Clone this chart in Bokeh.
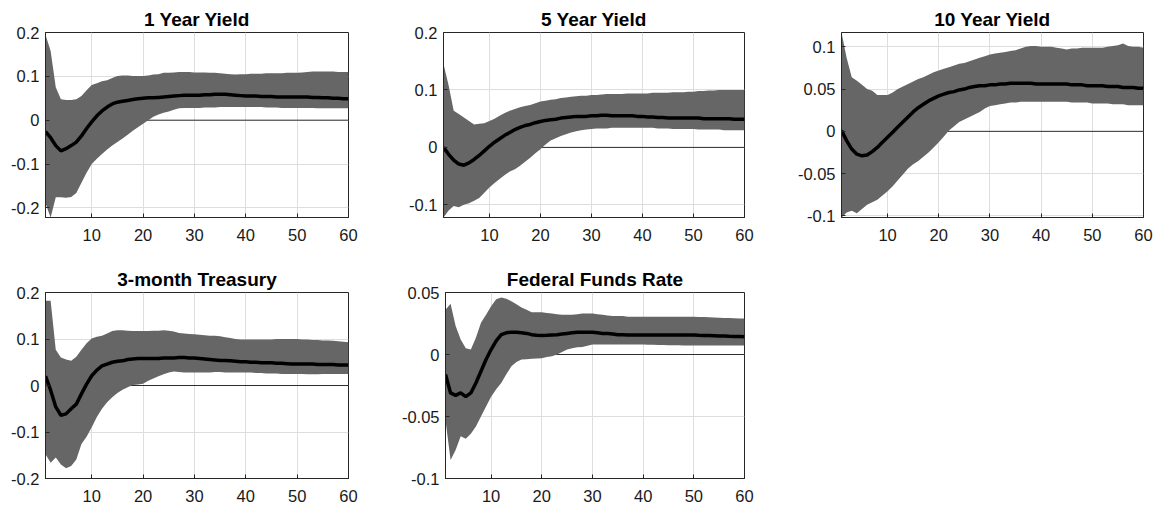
from bokeh.plotting import figure
from bokeh.layouts import column, row
from bokeh.models import FixedTicker, Range1d, Span
from bokeh.embed import file_html
from bokeh.resources import INLINE

# ---------------- data ----------------
horizon = list(range(1, 61))
x_ticks = [10, 20, 30, 40, 50, 60]

titles = ["1 Year Yield", "5 Year Yield", "10 Year Yield", "3-month Treasury", "Federal Funds Rate"]

y1_med = [-0.026, -0.040, -0.058, -0.070, -0.065, -0.058, -0.050, -0.036, -0.019, -0.004,
          0.010, 0.021, 0.030, 0.037, 0.041, 0.043, 0.045, 0.047, 0.049, 0.050,
          0.051, 0.051, 0.052, 0.053, 0.054, 0.055, 0.056, 0.057, 0.057, 0.057,
          0.057, 0.058, 0.058, 0.059, 0.059, 0.059, 0.058, 0.057, 0.056, 0.055,
          0.055, 0.055, 0.054, 0.054, 0.054, 0.053, 0.053, 0.053, 0.053, 0.053,
          0.053, 0.053, 0.052, 0.052, 0.051, 0.051, 0.050, 0.050, 0.049, 0.049]
y1_hi = [0.195, 0.158, 0.075, 0.048, 0.046, 0.046, 0.048, 0.055, 0.068, 0.080,
         0.084, 0.089, 0.091, 0.096, 0.101, 0.102, 0.102, 0.101, 0.101, 0.101,
         0.102, 0.104, 0.105, 0.108, 0.108, 0.109, 0.110, 0.110, 0.110, 0.109,
         0.109, 0.109, 0.108, 0.108, 0.107, 0.106, 0.105, 0.104, 0.105, 0.105,
         0.106, 0.106, 0.106, 0.107, 0.107, 0.107, 0.107, 0.108, 0.108, 0.108,
         0.109, 0.110, 0.111, 0.111, 0.111, 0.111, 0.111, 0.110, 0.110, 0.110]
y1_lo = [-0.190, -0.222, -0.176, -0.176, -0.177, -0.175, -0.166, -0.143, -0.120, -0.100,
         -0.088, -0.077, -0.067, -0.058, -0.050, -0.042, -0.033, -0.024, -0.016, -0.008,
         0.000, 0.008, 0.013, 0.017, 0.020, 0.024, 0.027, 0.028, 0.028, 0.028,
         0.028, 0.029, 0.029, 0.029, 0.030, 0.030, 0.030, 0.030, 0.030, 0.030,
         0.030, 0.030, 0.030, 0.029, 0.029, 0.029, 0.028, 0.028, 0.028, 0.028,
         0.028, 0.028, 0.028, 0.027, 0.027, 0.027, 0.027, 0.027, 0.027, 0.027]

y5_med = [0.000, -0.012, -0.022, -0.029, -0.031, -0.027, -0.021, -0.014, -0.006, 0.002,
          0.009, 0.015, 0.021, 0.026, 0.031, 0.035, 0.038, 0.040, 0.043, 0.045,
          0.047, 0.048, 0.049, 0.051, 0.052, 0.053, 0.054, 0.054, 0.054, 0.055,
          0.055, 0.056, 0.056, 0.055, 0.055, 0.055, 0.055, 0.055, 0.054, 0.054,
          0.053, 0.053, 0.052, 0.052, 0.051, 0.051, 0.051, 0.051, 0.051, 0.051,
          0.051, 0.050, 0.050, 0.050, 0.050, 0.050, 0.050, 0.049, 0.049, 0.049]
y5_hi = [0.145, 0.108, 0.064, 0.058, 0.052, 0.046, 0.040, 0.041, 0.042, 0.046,
         0.050, 0.055, 0.060, 0.064, 0.067, 0.070, 0.072, 0.074, 0.077, 0.080,
         0.081, 0.083, 0.084, 0.086, 0.087, 0.088, 0.089, 0.090, 0.090, 0.091,
         0.091, 0.092, 0.093, 0.093, 0.093, 0.093, 0.094, 0.094, 0.094, 0.094,
         0.094, 0.095, 0.095, 0.095, 0.095, 0.096, 0.096, 0.096, 0.097, 0.097,
         0.098, 0.098, 0.099, 0.099, 0.100, 0.100, 0.100, 0.100, 0.100, 0.100]
y5_lo = [-0.122, -0.110, -0.102, -0.104, -0.100, -0.097, -0.093, -0.088, -0.079, -0.070,
         -0.062, -0.055, -0.048, -0.042, -0.038, -0.032, -0.025, -0.018, -0.010, -0.003,
         0.005, 0.012, 0.016, 0.020, 0.023, 0.026, 0.028, 0.030, 0.031, 0.032,
         0.033, 0.033, 0.033, 0.034, 0.034, 0.034, 0.034, 0.034, 0.034, 0.034,
         0.034, 0.034, 0.033, 0.033, 0.033, 0.032, 0.032, 0.032, 0.032, 0.032,
         0.031, 0.031, 0.031, 0.031, 0.031, 0.030, 0.030, 0.030, 0.030, 0.030]

y10_med = [0.001, -0.011, -0.021, -0.027, -0.029, -0.028, -0.024, -0.019, -0.013, -0.007,
           -0.001, 0.005, 0.011, 0.017, 0.023, 0.028, 0.032, 0.036, 0.039, 0.042,
           0.044, 0.046, 0.047, 0.049, 0.050, 0.052, 0.053, 0.054, 0.054, 0.055,
           0.055, 0.056, 0.056, 0.057, 0.057, 0.057, 0.057, 0.057, 0.056, 0.056,
           0.056, 0.056, 0.056, 0.056, 0.056, 0.055, 0.055, 0.055, 0.054, 0.054,
           0.054, 0.054, 0.053, 0.053, 0.053, 0.052, 0.052, 0.052, 0.051, 0.051]
y10_hi = [0.117, 0.087, 0.064, 0.060, 0.055, 0.050, 0.048, 0.043, 0.043, 0.043,
          0.046, 0.050, 0.053, 0.056, 0.059, 0.062, 0.064, 0.067, 0.070, 0.072,
          0.074, 0.076, 0.078, 0.080, 0.081, 0.083, 0.085, 0.087, 0.089, 0.091,
          0.092, 0.093, 0.094, 0.095, 0.096, 0.098, 0.100, 0.101, 0.101, 0.100,
          0.100, 0.100, 0.099, 0.098, 0.097, 0.098, 0.098, 0.099, 0.099, 0.099,
          0.099, 0.099, 0.100, 0.101, 0.102, 0.104, 0.101, 0.100, 0.100, 0.099]
y10_lo = [-0.102, -0.096, -0.094, -0.097, -0.092, -0.087, -0.084, -0.081, -0.076, -0.071,
          -0.065, -0.058, -0.051, -0.044, -0.039, -0.035, -0.030, -0.025, -0.019, -0.013,
          -0.006, 0.001, 0.006, 0.011, 0.014, 0.017, 0.020, 0.023, 0.027, 0.030,
          0.031, 0.032, 0.033, 0.034, 0.034, 0.035, 0.035, 0.035, 0.035, 0.035,
          0.035, 0.035, 0.035, 0.035, 0.035, 0.034, 0.034, 0.034, 0.034, 0.033,
          0.033, 0.033, 0.033, 0.032, 0.032, 0.032, 0.031, 0.031, 0.031, 0.031]

tb_med = [0.020, -0.010, -0.046, -0.064, -0.061, -0.050, -0.040, -0.018, 0.003, 0.021,
          0.033, 0.042, 0.046, 0.050, 0.052, 0.053, 0.056, 0.057, 0.058, 0.058,
          0.058, 0.058, 0.058, 0.059, 0.059, 0.059, 0.060, 0.060, 0.059, 0.059,
          0.058, 0.057, 0.056, 0.055, 0.054, 0.054, 0.053, 0.052, 0.051, 0.051,
          0.050, 0.050, 0.049, 0.049, 0.049, 0.048, 0.048, 0.047, 0.046, 0.046,
          0.046, 0.046, 0.046, 0.045, 0.045, 0.045, 0.045, 0.044, 0.044, 0.044]
tb_hi = [0.182, 0.182, 0.077, 0.060, 0.056, 0.053, 0.062, 0.077, 0.091, 0.101,
         0.105, 0.107, 0.112, 0.117, 0.119, 0.119, 0.118, 0.117, 0.117, 0.117,
         0.117, 0.118, 0.118, 0.119, 0.118, 0.116, 0.113, 0.112, 0.111, 0.110,
         0.109, 0.108, 0.107, 0.107, 0.106, 0.104, 0.102, 0.100, 0.099, 0.099,
         0.099, 0.099, 0.099, 0.099, 0.099, 0.100, 0.100, 0.100, 0.100, 0.100,
         0.099, 0.099, 0.098, 0.098, 0.097, 0.097, 0.096, 0.095, 0.094, 0.093]
tb_lo = [-0.148, -0.166, -0.155, -0.170, -0.178, -0.173, -0.159, -0.126, -0.110, -0.090,
         -0.068, -0.050, -0.036, -0.025, -0.016, -0.009, -0.004, 0.001, 0.002, 0.004,
         0.010, 0.015, 0.020, 0.024, 0.028, 0.030, 0.029, 0.028, 0.028, 0.028,
         0.028, 0.028, 0.028, 0.029, 0.029, 0.028, 0.028, 0.028, 0.028, 0.028,
         0.028, 0.027, 0.027, 0.026, 0.026, 0.026, 0.025, 0.025, 0.025, 0.025,
         0.025, 0.024, 0.024, 0.024, 0.025, 0.025, 0.025, 0.025, 0.025, 0.025]

ff_med = [-0.0160, -0.0310, -0.0330, -0.0310, -0.0340, -0.0310, -0.0230, -0.0135, -0.0040, 0.0040,
          0.0110, 0.0160, 0.0175, 0.0180, 0.0180, 0.0176, 0.0170, 0.0160, 0.0155, 0.0154,
          0.0155, 0.0158, 0.0160, 0.0165, 0.0170, 0.0175, 0.0180, 0.0180, 0.0180, 0.0180,
          0.0175, 0.0170, 0.0170, 0.0165, 0.0160, 0.0160, 0.0158, 0.0157, 0.0157, 0.0157,
          0.0157, 0.0157, 0.0157, 0.0157, 0.0157, 0.0157, 0.0157, 0.0157, 0.0157, 0.0157,
          0.0155, 0.0154, 0.0153, 0.0152, 0.0150, 0.0149, 0.0147, 0.0146, 0.0145, 0.0143]
ff_hi = [0.0360, 0.0410, 0.0230, 0.0120, 0.0050, 0.0040, 0.0135, 0.0257, 0.0320, 0.0390,
         0.0446, 0.0460, 0.0450, 0.0430, 0.0405, 0.0380, 0.0360, 0.0340, 0.0340, 0.0340,
         0.0335, 0.0330, 0.0325, 0.0320, 0.0320, 0.0320, 0.0325, 0.0330, 0.0330, 0.0330,
         0.0325, 0.0320, 0.0315, 0.0310, 0.0310, 0.0310, 0.0305, 0.0305, 0.0305, 0.0305,
         0.0305, 0.0305, 0.0305, 0.0305, 0.0305, 0.0305, 0.0305, 0.0305, 0.0305, 0.0305,
         0.0303, 0.0302, 0.0300, 0.0298, 0.0297, 0.0295, 0.0294, 0.0292, 0.0291, 0.0290]
ff_lo = [-0.0530, -0.0850, -0.0770, -0.0660, -0.0680, -0.0640, -0.0580, -0.0500, -0.0420, -0.0340,
         -0.0280, -0.0230, -0.0160, -0.0095, -0.0060, -0.0040, -0.0038, -0.0035, -0.0032, -0.0030,
         -0.0020, -0.0014, 0.0000, 0.0020, 0.0040, 0.0050, 0.0058, 0.0060, 0.0070, 0.0080,
         0.0080, 0.0080, 0.0080, 0.0080, 0.0080, 0.0080, 0.0080, 0.0080, 0.0080, 0.0080,
         0.0079, 0.0078, 0.0077, 0.0076, 0.0075, 0.0074, 0.0074, 0.0073, 0.0073, 0.0073,
         0.0073, 0.0073, 0.0073, 0.0073, 0.0073, 0.0073, 0.0073, 0.0073, 0.0073, 0.0073]

yticks_1 = [-0.2, -0.1, 0, 0.1, 0.2]
ylabels_1 = ["-0.2", "-0.1", "0", "0.1", "0.2"]
yticks_10 = [-0.1, -0.05, 0, 0.05, 0.1]
ylabels_10 = ["-0.1", "-0.05", "0", "0.05", "0.1"]
yticks_ff = [-0.1, -0.05, 0, 0.05]
ylabels_ff = ["-0.1", "-0.05", "0", "0.05"]

ylims = [(-0.222, 0.2), (-0.122, 0.2), (-0.102, 0.117), (-0.2, 0.2), (-0.1, 0.05)]

FONT = "Liberation Sans"
AX = "#262626"
GRID = "#dedede"
BAND = "#666666"


def make(title, med, lo, hi, ylim, yticks, ylabels, w, h, bl, br, bt, bb, xstand):
    p = figure(width=w, height=h, x_range=Range1d(1, 60), y_range=Range1d(*ylim),
               output_backend="svg", toolbar_location=None, title=title,
               min_border_left=bl, min_border_right=br, min_border_top=bt, min_border_bottom=bb,
               background_fill_color="white", border_fill_color="white")
    p.title.text_font = FONT
    p.title.text_font_size = "19px"
    p.title.text_font_style = "bold"
    p.title.text_color = "black"
    p.title.align = "center"
    p.title.standoff = 5
    p.outline_line_color = AX
    p.outline_line_width = 1

    p.xgrid.ticker = FixedTicker(ticks=x_ticks)
    p.ygrid.ticker = FixedTicker(ticks=yticks)
    for g in (p.xgrid, p.ygrid):
        g.grid_line_color = GRID
        g.grid_line_width = 1

    p.add_layout(Span(location=0, dimension="width", line_color="black",
                      line_width=0.8, level="underlay"))
    p.varea(x=horizon, y1=lo, y2=hi, fill_color=BAND, fill_alpha=1.0)
    p.line(horizon, med, line_color="black", line_width=3.5)

    xa = p.xaxis[0]
    xa.ticker = FixedTicker(ticks=x_ticks)
    ya = p.yaxis[0]
    ya.ticker = FixedTicker(ticks=yticks)
    ya.major_label_overrides = {t: s for t, s in zip(yticks, ylabels)}
    for a in (xa, ya):
        a.axis_line_color = AX
        a.major_tick_line_color = AX
        a.major_tick_in = 4
        a.major_tick_out = 0
        a.minor_tick_in = 0
        a.minor_tick_out = 0
        a.major_label_text_font = FONT
        a.major_label_text_font_size = "16.5px"
        a.major_label_text_color = "#1a1a1a"
    xa.major_label_standoff = xstand
    ya.major_label_standoff = 6
    return p


p1 = make(titles[0], y1_med, y1_lo, y1_hi, ylims[0], yticks_1, ylabels_1, 398, 264, 45, 50, 32, 47, 11)
p2 = make(titles[1], y5_med, y5_lo, y5_hi, ylims[1], yticks_1, ylabels_1, 390, 264, 45, 44, 32, 47, 11)
p3 = make(titles[2], y10_med, y10_lo, y10_hi, ylims[2], yticks_10, ylabels_10, 373, 264, 53, 18, 32, 47, 11)
p4 = make(titles[3], tb_med, tb_lo, tb_hi, ylims[3], yticks_1, ylabels_1, 398, 246, 45, 50, 28, 32, 11)
p5 = make(titles[4], ff_med, ff_lo, ff_hi, ylims[4], yticks_ff, ylabels_ff, 390, 246, 45, 44, 28, 32, 11)

layout = column(row(p1, p2, p3), row(p4, p5))
open("out.html", "w").write(file_html(layout, INLINE))
